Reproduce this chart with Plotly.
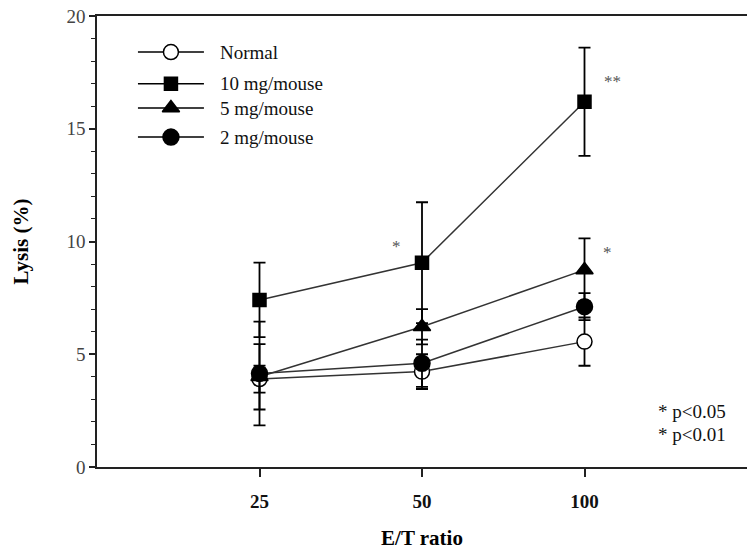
import plotly.graph_objects as go

# ---- data ----
et_ratio = ["25", "50", "100"]
x_pos = [0, 1, 2]

normal = [3.90, 4.23, 5.56]
normal_err = [0.60, 0.77, 1.07]

mg10 = [7.41, 9.06, 16.20]
mg10_err = [1.65, 2.68, 2.40]

mg5 = [4.00, 6.22, 8.74]
mg5_err = [1.45, 0.78, 1.40]

mg2 = [4.15, 4.60, 7.11]
mg2_err = [2.30, 1.05, 0.60]

series_names = ["Normal", "10 mg/mouse", "5 mg/mouse", "2 mg/mouse"]

# ---- styles ----
FONT = "Liberation Serif, Times New Roman, serif"
series = [
    (normal, normal_err, "circle", 15, "white"),
    (mg10, mg10_err, "square", 13, "black"),
    (mg5, mg5_err, "triangle-up", 15, "black"),
    (mg2, mg2_err, "circle", 16, "black"),
]

fig = go.Figure()
for (vals, errs, sym, size, fill), name in zip(series, series_names):
    fig.add_trace(go.Scatter(
        x=x_pos, y=vals, name=name, mode="lines+markers",
        line=dict(color="#333", width=1.5),
        marker=dict(symbol=sym, size=size, color=fill,
                    line=dict(color="black", width=1.5)),
        error_y=dict(type="data", array=errs, visible=True,
                     color="black", thickness=1.8, width=6),
        showlegend=False,
    ))

# ---- custom legend (long line samples like the original) ----
legend_rows_y = [18.4, 17.0, 15.92, 14.63]
LEG_X0, LEG_XM, LEG_X1, LEG_TX = -0.748, -0.545, -0.342, -0.255
for (vals, errs, sym, size, fill), name, ly in zip(series, series_names, legend_rows_y):
    fig.add_trace(go.Scatter(
        x=[LEG_X0, LEG_X1], y=[ly, ly], mode="lines",
        line=dict(color="black", width=1.5), showlegend=False, hoverinfo="skip"))
    fig.add_trace(go.Scatter(
        x=[LEG_XM], y=[ly], mode="markers",
        marker=dict(symbol=sym, size=size, color=fill,
                    line=dict(color="black", width=1.5)),
        showlegend=False, hoverinfo="skip"))
    fig.add_annotation(x=LEG_TX, y=ly, text=name, showarrow=False,
                       xanchor="left", yanchor="middle",
                       font=dict(family=FONT, size=19, color="#111"))

# ---- significance annotations ----
sig = [(0.846, 9.76, "*"), (2.17, 17.1, "**"), (2.14, 9.5, "*")]
for sx, sy, st in sig:
    fig.add_annotation(x=sx, y=sy, text=st, showarrow=False,
                       xanchor="center", yanchor="middle",
                       font=dict(family=FONT, size=17, color="#555"))
fig.add_annotation(x=2.88, y=2.44, text="* p<0.05", showarrow=False,
                   xanchor="right", yanchor="middle",
                   font=dict(family=FONT, size=19, color="#111"))
fig.add_annotation(x=2.88, y=1.42, text="* p<0.01", showarrow=False,
                   xanchor="right", yanchor="middle",
                   font=dict(family=FONT, size=19, color="#111"))

fig.update_layout(
    width=747, height=550,
    margin=dict(l=97, r=0, t=16, b=83),
    paper_bgcolor="white", plot_bgcolor="white",
    font=dict(family=FONT, color="black"),
    xaxis=dict(
        range=[-1, 3], tickvals=x_pos, ticktext=et_ratio,
        showgrid=False, zeroline=False,
        showline=True, linecolor="#222", linewidth=2, mirror=True,
        ticks="outside", ticklen=8, tickwidth=1.5, tickcolor="#222",
        ticklabelstandoff=8,
        tickfont=dict(family=FONT, size=19, color="#111", weight="bold"),
        title=dict(text="<b>E/T ratio</b>", font=dict(family=FONT, size=21),
                   standoff=24),
    ),
    yaxis=dict(
        range=[0, 20], tickvals=[0, 5, 10, 15, 20],
        showgrid=False, zeroline=False,
        showline=True, linecolor="#222", linewidth=1.5,
        ticks="outside", ticklen=6, tickwidth=1.5, tickcolor="#222",
        minor=dict(dtick=1, ticks="outside", ticklen=4, tickwidth=1, tickcolor="#222"),
        tickfont=dict(family=FONT, size=19, color="#444"),
        title=dict(text="<b>Lysis (%)</b>", font=dict(family=FONT, size=21),
                   standoff=32),
    ),
)

fig.write_html("out.html")
